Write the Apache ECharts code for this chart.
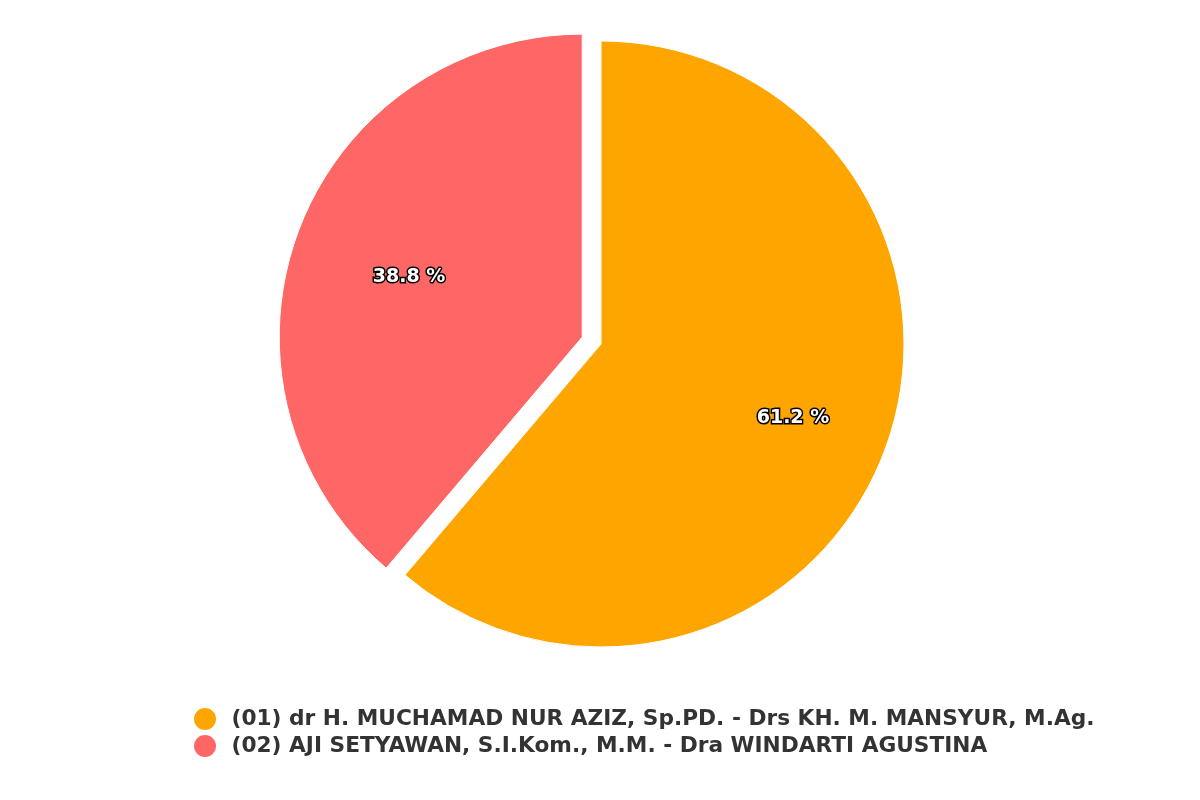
<!DOCTYPE html>
<html><head><meta charset="utf-8">
<script src="https://cdn.jsdelivr.net/npm/echarts@6/dist/echarts.min.js"></script>
<style>html,body{margin:0;padding:0;background:#fff}#c{width:1200px;height:800px}</style>
</head><body><div id="c"></div>
<script>
const names = [
  "(01) dr H. MUCHAMAD NUR AZIZ, Sp.PD. - Drs KH. M. MANSYUR, M.Ag.",
  "(02) AJI SETYAWAN, S.I.Kom., M.M. - Dra WINDARTI AGUSTINA"
];
const values = [61.2, 38.8];
const colors = ["#ffa500", "#ff6666"];
const selected = [false, true];

const chart = echarts.init(document.getElementById('c'));
const mainData = names.map((n, i) => ({ name: n, value: values[i], selected: selected[i], itemStyle: { color: colors[i] } }));
const labelData = names.map((n, i) => ({ name: n, value: values[i] }));
chart.setOption({
  animation: false,
  legend: {
    orient: 'vertical',
    left: 187,
    top: 701,
    icon: 'circle',
    itemWidth: 43,
    itemHeight: 24,
    itemGap: 1,
    textStyle: { fontFamily: 'DejaVu Sans', fontWeight: 'bold', fontSize: 21.7, color: '#333', lineHeight: 26 }
  },
  series: [
    {
      type: 'pie',
      center: [601, 344],
      radius: [0, 303],
      startAngle: 90,
      clockwise: true,
      selectedMode: 'single',
      selectedOffset: 20,
      label: { show: false },
      labelLine: { show: false },
      itemStyle: { borderColor: '#fff', borderWidth: 1 },
      emphasis: { disabled: true },
      data: mainData
    },
    {
      type: 'pie',
      center: [601, 348],
      radius: [103, 300],
      startAngle: 90,
      clockwise: true,
      silent: true,
      legendHoverLink: false,
      itemStyle: { color: 'transparent' },
      label: {
        show: true,
        position: 'inside',
        formatter: p => p.value.toFixed(1) + ' %',
        fontFamily: 'DejaVu Sans',
        fontWeight: 'bold',
        fontSize: 19,
        color: '#fff',
        textBorderColor: '#000',
        textBorderWidth: 3
      },
      labelLine: { show: false },
      emphasis: { disabled: true },
      data: labelData
    }
  ]
});
</script></body></html>
